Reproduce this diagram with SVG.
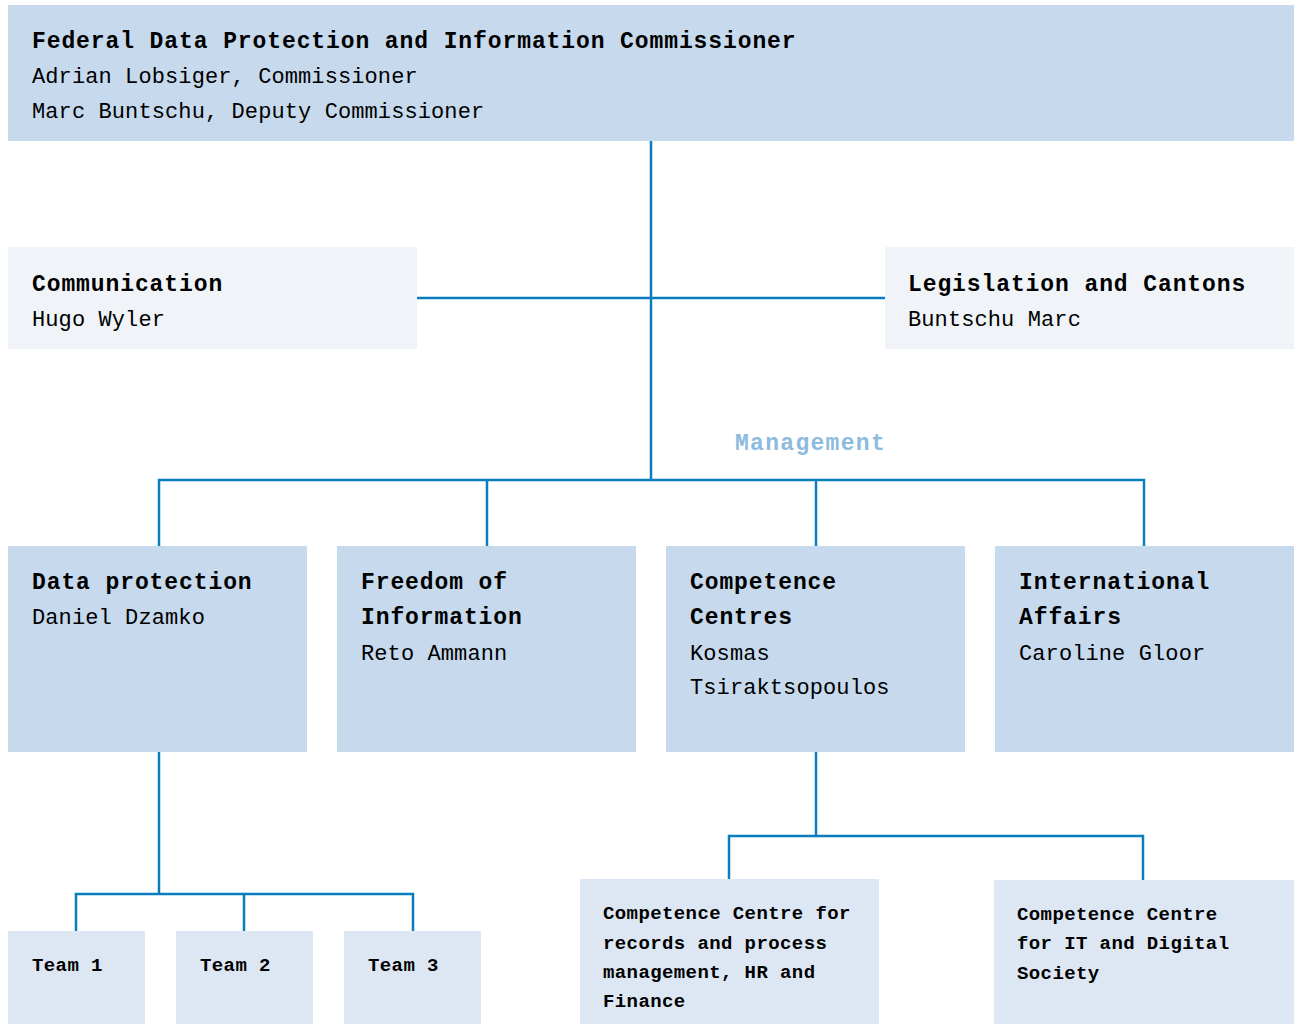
<svg xmlns="http://www.w3.org/2000/svg" width="1295" height="1024" viewBox="0 0 1295 1024">
<style>
.b{fill:#c6d9ed}
.l{fill:#f0f4f9}
.s{fill:#dde7f3}
.t{font-family:"Liberation Mono","DejaVu Sans Mono",monospace;fill:#000}
.h{font-size:23px;font-weight:bold;letter-spacing:0.9px}
.r{font-size:22px;letter-spacing:0.1px}
.m{font-size:19px;font-weight:bold;letter-spacing:0.4px}
.mg{font-family:"Liberation Mono","DejaVu Sans Mono",monospace;font-size:23px;font-weight:bold;letter-spacing:1.3px;fill:#8dbbe0}
.c{fill:none;stroke:#0a7dbf;stroke-width:2.5}
</style>
<rect width="1295" height="1024" fill="#fff"/>
<g id="connectors" class="c">
<path d="M651 141V480M417 298H885"/>
<path d="M159 546V480H1144V546M487 480V546M816 480V546"/>
<path d="M159 752V894M76 931V894H413V931M244 894V931"/>
<path d="M816 752V836M729 879V836H1143V880"/>
</g>
<g id="fdpic">
<rect class="b" x="8" y="5" width="1286" height="136"/>
<text class="t h" x="32" y="48">Federal Data Protection and Information Commissioner</text>
<text class="t r" x="32" y="83">Adrian Lobsiger, Commissioner</text>
<text class="t r" x="32" y="118">Marc Buntschu, Deputy Commissioner</text>
</g>
<g id="communication">
<rect class="l" x="8" y="247" width="409" height="102"/>
<text class="t h" x="32" y="291">Communication</text>
<text class="t r" x="32" y="326">Hugo Wyler</text>
</g>
<g id="legislation">
<rect class="l" x="885" y="247" width="409" height="102"/>
<text class="t h" x="908" y="291">Legislation and Cantons</text>
<text class="t r" x="908" y="326">Buntschu Marc</text>
</g>
<g id="management">
<text class="mg" x="735" y="450">Management</text>
</g>
<g id="data-protection">
<rect class="b" x="8" y="546" width="299" height="206"/>
<text class="t h" x="32" y="589">Data protection</text>
<text class="t r" x="32" y="624">Daniel Dzamko</text>
</g>
<g id="freedom">
<rect class="b" x="337" y="546" width="299" height="206"/>
<text class="t h" x="361" y="589">Freedom of</text>
<text class="t h" x="361" y="624">Information</text>
<text class="t r" x="361" y="660">Reto Ammann</text>
</g>
<g id="competence">
<rect class="b" x="666" y="546" width="299" height="206"/>
<text class="t h" x="690" y="589">Competence</text>
<text class="t h" x="690" y="624">Centres</text>
<text class="t r" x="690" y="660">Kosmas</text>
<text class="t r" x="690" y="694">Tsiraktsopoulos</text>
</g>
<g id="international">
<rect class="b" x="995" y="546" width="299" height="206"/>
<text class="t h" x="1019" y="589">International</text>
<text class="t h" x="1019" y="624">Affairs</text>
<text class="t r" x="1019" y="660">Caroline Gloor</text>
</g>
<g id="team1">
<rect class="s" x="8" y="931" width="137" height="93"/>
<text class="t m" x="32" y="971">Team 1</text>
</g>
<g id="team2">
<rect class="s" x="176" y="931" width="137" height="93"/>
<text class="t m" x="200" y="971">Team 2</text>
</g>
<g id="team3">
<rect class="s" x="344" y="931" width="137" height="93"/>
<text class="t m" x="368" y="971">Team 3</text>
</g>
<g id="cc-records">
<rect class="s" x="580" y="879" width="299" height="145"/>
<text class="t m" x="603" y="919">Competence Centre for</text>
<text class="t m" x="603" y="949">records and process</text>
<text class="t m" x="603" y="978">management, HR and</text>
<text class="t m" x="603" y="1007">Finance</text>
</g>
<g id="cc-it">
<rect class="s" x="994" y="880" width="300" height="144"/>
<text class="t m" x="1017" y="920">Competence Centre</text>
<text class="t m" x="1017" y="949">for IT and Digital</text>
<text class="t m" x="1017" y="979">Society</text>
</g>
</svg>
